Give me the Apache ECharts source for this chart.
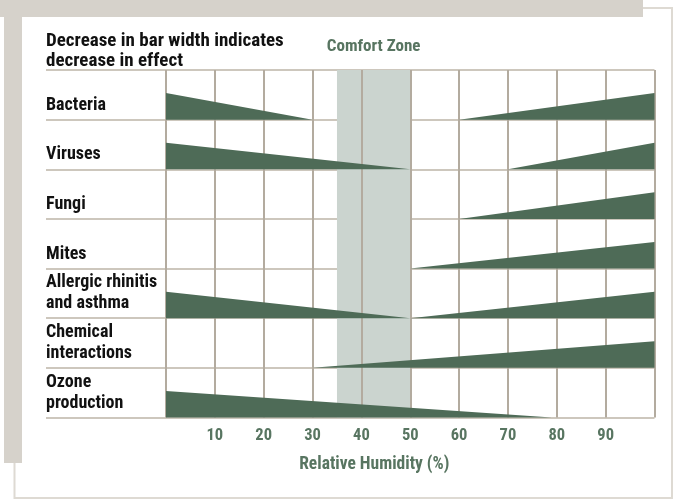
<!DOCTYPE html>
<html>
<head>
<meta charset="utf-8">
<script src="https://cdn.jsdelivr.net/npm/echarts@6/dist/echarts.min.js"></script>
<style>
  html, body { margin: 0; padding: 0; background: #fff; }
  #chart { width: 673px; height: 500px; }
</style>
</head>
<body>
<div id="chart"></div>
<script>
// rows, top to bottom
const categories = [
  'Bacteria',
  'Viruses',
  'Fungi',
  'Mites',
  'Allergic rhinitis\nand asthma',
  'Chemical\ninteractions',
  'Ozone\nproduction'
];

// relative humidity labels under the grid
const humidityTicks = [10, 20, 30, 40, 50, 60, 70, 80, 90];

// the comfort zone, in % RH
const comfortZone = [35, 50];

// [row, from RH, to RH, width at from, width at to]  (1 = full effect)
const lowHumidityEffects = [
  [0, 0, 30, 1, 0],
  [1, 0, 50, 1, 0],
  [4, 0, 50, 1, 0],
  [6, 0, 79, 1, 0]
];
const highHumidityEffects = [
  [0, 60, 100, 0, 1],
  [1, 70, 100, 0, 1],
  [2, 60, 100, 0, 1],
  [3, 50, 100, 0, 1],
  [4, 50, 100, 0, 1],
  [5, 30, 100, 0, 1]
];

const FONT = "'Roboto Condensed', 'DejaVu Sans Condensed', sans-serif";
const GREEN = '#4e6b57';
const TEXT_GREEN = '#587561';

// wedge shape: bottom sits on the row line, height shrinks with the effect
function renderWedge(params, api) {
  const row = api.value(0);
  const a = api.coord([api.value(1), row]);
  const b = api.coord([api.value(2), row]);
  const bandH = api.size([0, 1])[1];
  const bottom = a[1] + bandH / 2;
  const h = bandH * 0.535;
  return {
    type: 'polygon',
    shape: {
      points: [
        [a[0], bottom - api.value(3) * h],
        [b[0], bottom - api.value(4) * h],
        [b[0], bottom],
        [a[0], bottom]
      ]
    },
    style: { fill: GREEN }
  };
}

const chart = echarts.init(document.getElementById('chart'));
chart.setOption({
  animation: false,
  title: {
    text: 'Decrease in bar width indicates\ndecrease in effect',
    left: 46,
    top: 31,
    padding: 0,
    textStyle: {
      fontFamily: FONT,
      fontSize: 19,
      fontWeight: 'bold',
      color: '#111',
      lineHeight: 20
    }
  },
  graphic: [
    {
      type: 'rect', z: -10,
      shape: { x: 14.5, y: 8, width: 657.5, height: 490 },
      style: { fill: '#fff', stroke: '#dedad3', lineWidth: 2 }
    },
    {
      type: 'rect', z: -5,
      shape: { x: 0, y: 0, width: 643, height: 17 },
      style: { fill: '#d6d2cb' }
    },
    {
      type: 'rect', z: -5,
      shape: { x: 4, y: 0, width: 18, height: 463 },
      style: { fill: '#d6d2cb' }
    }
  ],
  grid: {
    left: 166,
    right: 18.5,
    top: 70,
    bottom: 82.5,
    outerBoundsMode: 'none'
  },
  xAxis: {
    type: 'value',
    min: 0,
    max: 100,
    interval: 10,
    z: 1.5,
    axisLine: { show: false },
    axisTick: { show: false },
    splitLine: { show: true, lineStyle: { color: '#b3ab9f', width: 2 } },
    axisLabel: {
      margin: 10,
      fontFamily: FONT,
      fontSize: 16.5,
      fontWeight: 'bold',
      color: TEXT_GREEN,
      formatter: v => (humidityTicks.includes(v) ? String(v) : '')
    },
    name: 'Relative Humidity (%)',
    nameLocation: 'middle',
    nameGap: 38,
    nameTextStyle: {
      fontFamily: FONT,
      fontSize: 17.5,
      fontWeight: 'bold',
      color: TEXT_GREEN,
      padding: [0, 72, 0, 0]
    }
  },
  yAxis: {
    type: 'category',
    data: categories,
    inverse: true,
    z: 0,
    axisLine: { show: false },
    axisTick: {
      show: true,
      interval: 0,
      length: 120,
      lineStyle: { color: '#cdc7bd', width: 2 }
    },
    splitLine: {
      show: true,
      interval: 0,
      lineStyle: { color: '#cdc7bd', width: 2 }
    },
    axisLabel: {
      interval: 0,
      margin: 120,
      align: 'left',
      verticalAlign: 'middle',
      lineHeight: 21,
      fontFamily: FONT,
      fontSize: 18,
      fontWeight: 'bold',
      color: '#111',
      formatter: v => (v.includes('\n') ? v : '\n' + v)
    }
  },
  series: [
    {
      name: 'Comfort Zone',
      type: 'custom',
      z: 1,
      silent: true,
      data: [comfortZone],
      renderItem: (params, api) => {
        const cs = params.coordSys;
        const x0 = api.coord([api.value(0), 0])[0];
        const x1 = api.coord([api.value(1), 0])[0];
        return {
          type: 'group',
          children: [
            {
              type: 'rect',
              shape: { x: x0, y: cs.y, width: x1 - x0, height: cs.height },
              style: { fill: '#cbd4cf' }
            },
            {
              type: 'text',
              x: (x0 + x1) / 2,
              y: cs.y - 23,
              style: {
                text: 'Comfort Zone',
                align: 'center',
                verticalAlign: 'middle',
                fontFamily: FONT,
                fontSize: 17,
                fontWeight: 'bold',
                fill: TEXT_GREEN
              }
            }
          ]
        };
      }
    },
    {
      name: 'Low humidity effects',
      type: 'custom',
      z: 2,
      silent: true,
      encode: { x: [1, 2], y: 0 },
      data: lowHumidityEffects,
      renderItem: renderWedge
    },
    {
      name: 'High humidity effects',
      type: 'custom',
      z: 2,
      silent: true,
      encode: { x: [1, 2], y: 0 },
      data: highHumidityEffects,
      renderItem: renderWedge
    }
  ]
});
</script>
</body>
</html>
